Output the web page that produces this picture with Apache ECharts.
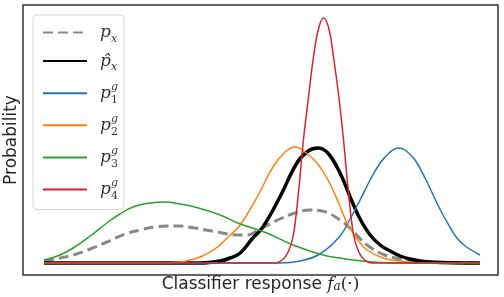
<!DOCTYPE html>
<html>
<head>
<meta charset="utf-8">
<script src="https://cdn.jsdelivr.net/npm/echarts@6/dist/echarts.min.js"></script>
<style>
html, body { margin: 0; background: #fff; }
#chart { width: 504px; height: 297px; }
</style>
</head>
<body>
<div id="chart"></div>
<script>
// classifier response (0..100) and probability
const pxR = [0, 3.7, 6.7, 10.6, 14.4, 18.6, 22.0, 25.5, 28.2, 31.2, 34.6, 39.7, 44.3, 46.6, 49.5, 54.1, 57.6, 61.0, 63.8, 67.9, 70.6, 74.1, 78.2, 83.3, 88.5, 100]
const pxY = [0.02, 0.05, 0.08, 0.14, 0.21, 0.29, 0.33, 0.36, 0.37, 0.37, 0.35, 0.31, 0.28, 0.28, 0.34, 0.44, 0.50, 0.53, 0.52, 0.43, 0.33, 0.18, 0.08, 0.03, 0.01, 0]

const hatR = [0, 35.8, 40.4, 42.7, 45.0, 47.7, 50.2, 54.1, 58.0, 60.6, 62.8, 65.1, 67.9, 70.6, 72.5, 74.8, 77.1, 79.4, 81.7, 83.9, 88.5, 100]
const hatY = [0, 0, 0.02, 0.05, 0.10, 0.24, 0.36, 0.66, 1.00, 1.12, 1.15, 1.10, 0.90, 0.62, 0.44, 0.28, 0.18, 0.12, 0.07, 0.04, 0.01, 0]

const p1R = [0, 54.1, 58.7, 63.3, 67.9, 70.2, 72.5, 74.8, 77.1, 79.4, 81.2, 82.8, 85.1, 87.4, 90.8, 93.1, 94.7, 96.6, 100]
const p1Y = [0, 0, 0.02, 0.09, 0.27, 0.44, 0.63, 0.83, 1.00, 1.11, 1.15, 1.13, 1.03, 0.85, 0.54, 0.36, 0.25, 0.17, 0.08]

const p2R = [0, 26.6, 31.2, 33.5, 35.8, 39.2, 42.7, 45.0, 48.9, 52.5, 55.3, 57.6, 59.9, 62.6, 64.9, 67.2, 69.5, 71.8, 74.1, 77.8, 81.7, 86.2, 100]
const p2Y = [0, 0, 0.01, 0.03, 0.06, 0.14, 0.28, 0.38, 0.66, 0.96, 1.11, 1.16, 1.11, 1.00, 0.85, 0.64, 0.40, 0.24, 0.13, 0.05, 0.02, 0, 0]

const p3R = [0, 3.7, 6.7, 10.6, 14.4, 17.4, 20.4, 24.3, 28.0, 31.2, 34.6, 40.4, 45.0, 51.1, 57.1, 64.0, 67.9, 70.9, 75.5, 81.7, 100]
const p3Y = [0.03, 0.08, 0.15, 0.27, 0.40, 0.49, 0.56, 0.60, 0.61, 0.59, 0.56, 0.48, 0.39, 0.30, 0.18, 0.08, 0.05, 0.03, 0.01, 0, 0]

const p4R = [0, 53.0, 54.9, 56.1, 57.2, 58.4, 59.5, 60.7, 61.8, 63.0, 64.1, 65.3, 66.4, 67.6, 68.7, 69.8, 71.0, 72.1, 73.3, 75.2, 100]
const p4Y = [0, 0, 0.04, 0.12, 0.28, 0.72, 1.23, 1.67, 2.06, 2.35, 2.45, 2.35, 2.06, 1.67, 1.23, 0.72, 0.28, 0.12, 0.04, 0, 0]

const legendNames = ['px', 'pxhat', 'p1', 'p2', 'p3', 'p4']
const legendLabels = {
    px: '{gap|}{p|p}{sb|x}',
    pxhat: '{gap|}{p|p\u0302}{sb|x}',
    p1: '{gap|}{p|p}{sp|g}{sn|1}',
    p2: '{gap|}{p|p}{sp|g}{sn|2}',
    p3: '{gap|}{p|p}{sp|g}{sn|3}',
    p4: '{gap|}{p|p}{sp|g}{sn|4}'
}

function pairs(xs, ys) {
    return xs.map((x, i) => [x, ys[i]])
}

function line(name, xs, ys, color, width, dashed) {
    return {
        name: name,
        type: 'line',
        data: pairs(xs, ys),
        smooth: 0.4,
        symbol: 'none',
        silent: true,
        lineStyle: {
            color: color,
            width: width,
            type: dashed ? [10, 5] : 'solid'
        },
        itemStyle: { color: color }
    }
}

const mathFont = 'DejaVu Serif'
const myChart = echarts.init(document.getElementById('chart'))
myChart.setOption({
    animation: false,
    grid: {
        left: 23,
        right: 6,
        top: 5,
        bottom: 22,
        outerBoundsMode: 'none',
        containLabel: false,
        show: true,
        borderColor: '#333',
        borderWidth: 1.5
    },
    legend: {
        data: legendNames,
        orient: 'vertical',
        left: 33,
        top: 15,
        itemWidth: 44,
        itemHeight: 14,
        itemGap: 8.1,
        padding: [9, 6, 8, 9],
        backgroundColor: 'rgba(255,255,255,0.8)',
        borderColor: '#d6d6d6',
        borderWidth: 1,
        borderRadius: 4,
        itemStyle: { opacity: 0 },
        formatter: function (name) {
            return legendLabels[name]
        },
        textStyle: {
            rich: {
                gap: { width: 8 },
                p: { fontFamily: mathFont, fontStyle: 'italic', fontSize: 17, lineHeight: 24, color: '#333' },
                sb: { fontFamily: mathFont, fontStyle: 'italic', fontSize: 11, lineHeight: 12, verticalAlign: 'bottom', color: '#333' },
                sn: { fontFamily: mathFont, fontSize: 11, lineHeight: 12, verticalAlign: 'bottom', color: '#333' },
                sp: { fontFamily: mathFont, fontStyle: 'italic', fontSize: 11, lineHeight: 12, verticalAlign: 'top', width: 0, color: '#333' }
            }
        }
    },
    xAxis: {
        type: 'value',
        min: -4.82,
        max: 104.13,
        name: 'Classifier response {f|f}{a|a}{n|(·)}',
        nameLocation: 'middle',
        nameGap: 1,
        nameTextStyle: {
            fontFamily: 'DejaVu Sans',
            fontSize: 17,
            color: '#262626',
            verticalAlign: 'top',
            rich: {
                f: { fontFamily: mathFont, fontStyle: 'italic', fontSize: 17, color: '#262626' },
                a: { fontFamily: mathFont, fontStyle: 'italic', fontSize: 12, verticalAlign: 'bottom', lineHeight: 15, color: '#262626' },
                n: { fontFamily: mathFont, fontSize: 17, color: '#262626' }
            }
        },
        axisLine: { show: false },
        axisTick: { show: false },
        axisLabel: { show: false },
        splitLine: { show: false }
    },
    yAxis: {
        type: 'value',
        min: -0.12,
        max: 2.58,
        name: 'Probability',
        nameLocation: 'middle',
        nameRotate: 90,
        nameGap: 3,
        nameTextStyle: {
            fontFamily: 'DejaVu Sans',
            fontSize: 17,
            color: '#262626'
        },
        axisLine: { show: false },
        axisTick: { show: false },
        axisLabel: { show: false },
        splitLine: { show: false }
    },
    series: [
        line('px', pxR, pxY, '#888888', 3, true),
        line('pxhat', hatR, hatY, '#000000', 3.5, false),
        line('p1', p1R, p1Y, '#1f77b4', 1.5, false),
        line('p2', p2R, p2Y, '#ff7f0e', 1.5, false),
        line('p3', p3R, p3Y, '#2ca02c', 1.5, false),
        line('p4', p4R, p4Y, '#d62728', 1.5, false)
    ]
})
</script>
</body>
</html>
